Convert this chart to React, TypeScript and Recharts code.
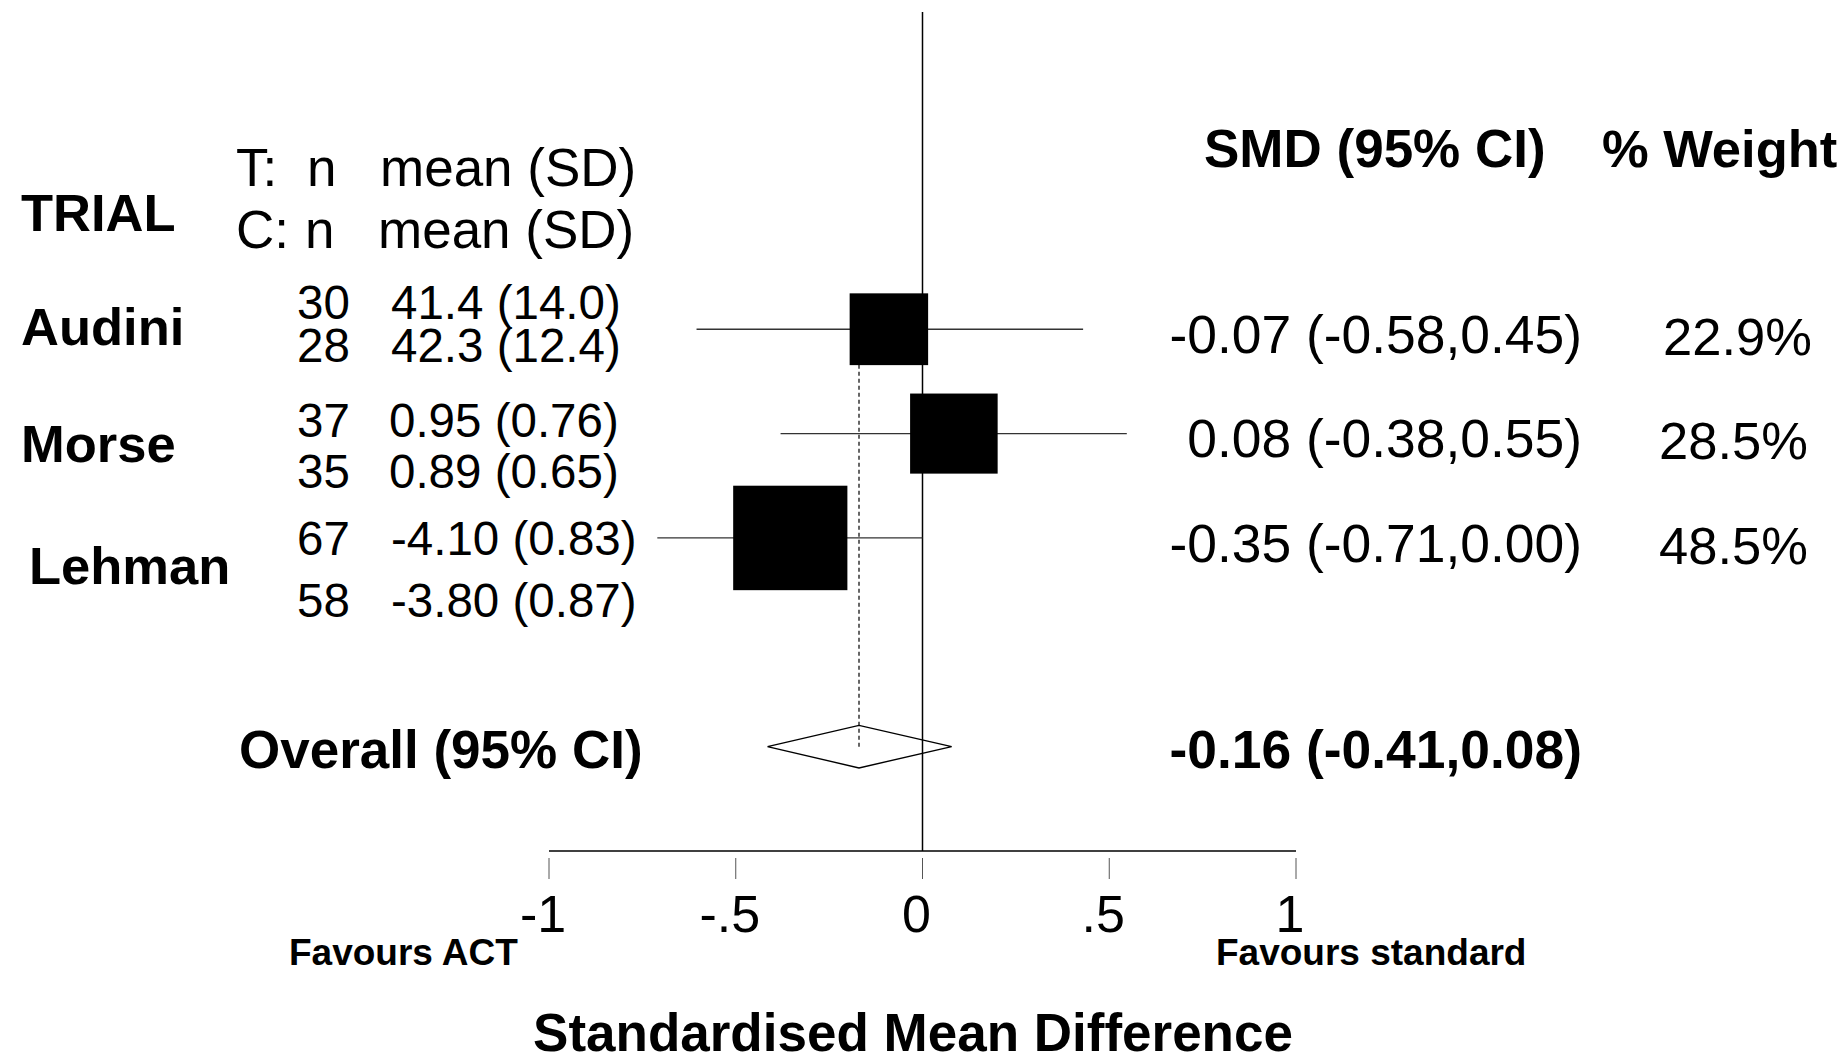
import { ComposedChart, Scatter, XAxis, YAxis, ReferenceLine } from 'recharts';

// trial rows (top to bottom), y = row position on the hidden y axis
const trials = ['Audini', 'Morse', 'Lehman'];
const rows = [4, 3, 2];
const tN = ['30', '37', '67'];
const tMeanSd = ['41.4 (14.0)', '0.95 (0.76)', '-4.10 (0.83)'];
const cN = ['28', '35', '58'];
const cMeanSd = ['42.3 (12.4)', '0.89 (0.65)', '-3.80 (0.87)'];

// effect sizes as drawn in the plot
const smd = [-0.09, 0.084, -0.354];
const ciLow = [-0.605, -0.38, -0.71];
const ciHigh = [0.43, 0.547, 0.0];
const weights = [22.9, 28.5, 48.5];
const smdLabels = ['-0.07 (-0.58,0.45)', '0.08 (-0.38,0.55)', '-0.35 (-0.71,0.00)'];
const weightLabels = ['22.9%', '28.5%', '48.5%'];

const overallRow = 0;
const overallSmd = -0.17;
const overallLow = -0.415;
const overallHigh = 0.078;
const overallLabel = '-0.16 (-0.41,0.08)';

const xTicks = [-1, -0.5, 0, 0.5, 1];
const xTickLabels = ['-1', '-.5', '0', '.5', '1'];

const W = 1847;
const H = 1062;
const FONT = '"Liberation Sans", Arial, Helvetica, sans-serif';
const DIAMOND_HALF = 0.204;

// text layout (pixels)
const nameX = [21, 21, 29];
const nameY = [345, 462, 584];
const tY = [319, 437, 555];
const cY = [362, 488, 617];
const meanX = [391, 389, 391];
const smdY = [353, 457, 562];
const weightX = [1663, 1659, 1659];

const studyPoints = trials.map((name, i) => ({ name, x: smd[i], y: rows[i], w: weights[i] }));
const diamond = [
  { x: overallLow, y: overallRow },
  { x: overallSmd, y: overallRow + DIAMOND_HALF },
  { x: overallHigh, y: overallRow },
  { x: overallSmd, y: overallRow - DIAMOND_HALF },
  { x: overallLow, y: overallRow },
];

const SquareShape = (props: any) => {
  const { cx, cy, payload } = props;
  const s = Math.sqrt(payload.w);
  const w = 16.4 * s;
  const h = 15 * s;
  return <rect x={cx - w / 2} y={cy - h / 2} width={w} height={h} fill="#000" />;
};

const NoShape = () => <g />;

const Tick = (props: any) => {
  const { x, y, payload } = props;
  const idx = xTicks.indexOf(payload.value);
  return (
    <g>
      <line x1={x} x2={x} y1={y + 7} y2={y + 28} stroke="#555" strokeWidth={1} />
      <text x={x - 6} y={y + 81} textAnchor="middle" fontFamily={FONT} fontSize={52} fill="#000">
        {xTickLabels[idx] ?? payload.value}
      </text>
    </g>
  );
};

const T = ({ x, y, size, bold, anchor, children }: any) => (
  <text
    x={x}
    y={y}
    fontFamily={FONT}
    fontSize={size}
    fontWeight={bold ? 'bold' : 'normal'}
    textAnchor={anchor || 'start'}
    fill="#000"
  >
    {children}
  </text>
);

export default function App() {
  return (
    <div style={{ position: 'absolute', left: 0, top: 0, width: W, height: H, background: '#fff' }}>
      <ComposedChart
        width={W}
        height={H}
        margin={{ top: 12, right: 551, bottom: 91, left: 549 }}
      >
        <XAxis
          type="number"
          dataKey="x"
          domain={[-1, 1]}
          ticks={xTicks}
          interval={0}
          allowDataOverflow
          tickLine={false}
          tickSize={0}
          tickMargin={0}
          axisLine={{ stroke: '#000', strokeWidth: 1.5 }}
          tick={<Tick />}
          height={120}
        />
        <YAxis type="number" dataKey="y" domain={[-1, 7.04]} allowDataOverflow hide />
        <ReferenceLine x={0} stroke="#000" strokeWidth={1.5} />
        {trials.map((name, i) => (
          <ReferenceLine
            key={name}
            segment={[
              { x: ciLow[i], y: rows[i] },
              { x: ciHigh[i], y: rows[i] },
            ]}
            stroke="#333"
            strokeWidth={1.3}
          />
        ))}
        <ReferenceLine
          segment={[
            { x: overallSmd, y: overallRow },
            { x: overallSmd, y: rows[0] },
          ]}
          stroke="#000"
          strokeWidth={1.2}
          strokeDasharray="4 3"
        />
        <Scatter data={studyPoints} shape={<SquareShape />} isAnimationActive={false} legendType="none" />
        <Scatter
          data={diamond}
          shape={<NoShape />}
          line={{ stroke: '#000', strokeWidth: 1.4 }}
          lineType="joint"
          isAnimationActive={false}
          legendType="none"
        />
      </ComposedChart>

      <svg
        width={W}
        height={H}
        style={{ position: 'absolute', left: 0, top: 0, pointerEvents: 'none' }}
      >
        <T x={21} y={231} size={52.5} bold>TRIAL</T>
        <T x={236} y={186} size={53}>T:</T>
        <T x={307} y={186} size={53}>n</T>
        <T x={380} y={186} size={53}>mean (SD)</T>
        <T x={236} y={248} size={53}>C:</T>
        <T x={305} y={248} size={53}>n</T>
        <T x={378} y={248} size={53}>mean (SD)</T>
        <T x={1204} y={167} size={53} bold>SMD (95% CI)</T>
        <T x={1602} y={167} size={52.5} bold>% Weight</T>

        {trials.map((name, i) => (
          <g key={name}>
            <T x={nameX[i]} y={nameY[i]} size={52.5} bold>{name}</T>
            <T x={297} y={tY[i]} size={47.5}>{tN[i]}</T>
            <T x={meanX[i]} y={tY[i]} size={47.5}>{tMeanSd[i]}</T>
            <T x={297} y={cY[i]} size={47.5}>{cN[i]}</T>
            <T x={meanX[i]} y={cY[i]} size={47.5}>{cMeanSd[i]}</T>
            <T x={1582} y={smdY[i]} size={53.4} anchor="end">{smdLabels[i]}</T>
            <T x={weightX[i]} y={smdY[i] + 2} size={52.5}>{weightLabels[i]}</T>
          </g>
        ))}

        <T x={239} y={768} size={53} bold>Overall (95% CI)</T>
        <T x={1582} y={768} size={53.4} bold anchor="end">{overallLabel}</T>

        <T x={289} y={965} size={37} bold>Favours ACT</T>
        <T x={1216} y={965} size={37} bold>Favours standard</T>
        <T x={913} y={1051} size={53} bold anchor="middle">Standardised Mean Difference</T>
      </svg>
    </div>
  );
}
